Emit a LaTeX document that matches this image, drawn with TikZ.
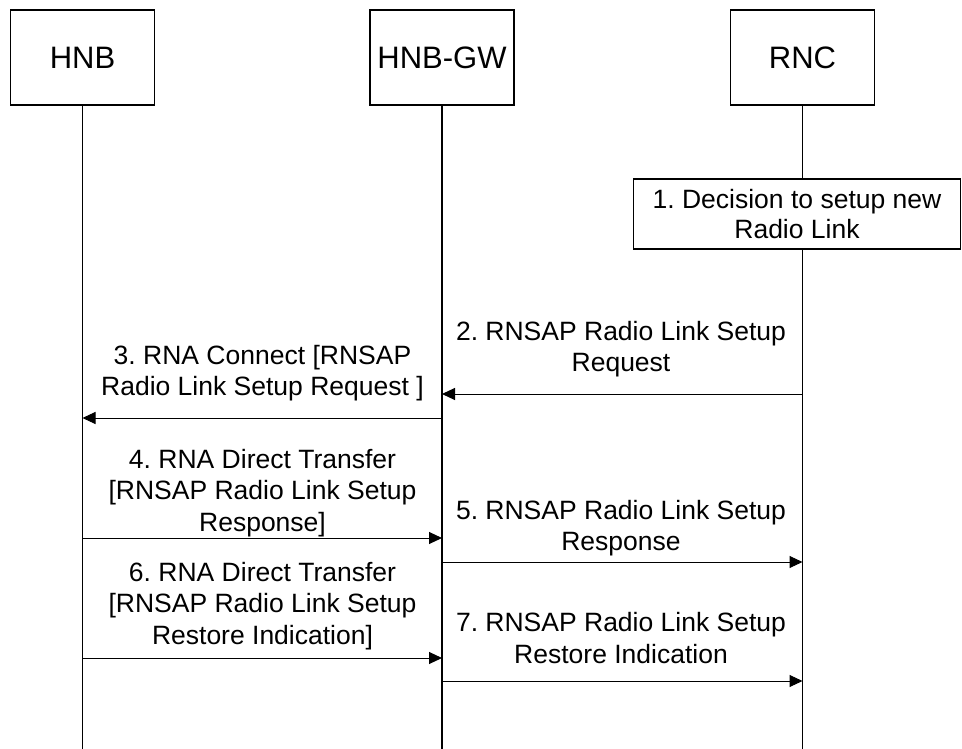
\documentclass[tikz,border=0pt]{standalone}
\usepackage{fontspec}
\setmainfont{Liberation Sans}
\usetikzlibrary{arrows.meta,positioning}
\frenchspacing

\tikzset{
    entity/.style={draw, line width=1.5pt, minimum width=144pt, minimum height=95pt, inner sep=0pt,
        font=\fontsize{31}{37}\selectfont},
    life/.style={line width=1.2pt},
    msg/.style={line width=1pt, -{Triangle[length=13pt,width=12pt]}},
    msgtext/.style={align=center, inner sep=0pt, font=\fontsize{26.5}{31.5}\selectfont},
    actionbox/.style={draw, fill=white, line width=1.3pt, minimum width=327pt, minimum height=70pt,
        inner sep=0pt, align=center, font=\fontsize{26.5}{30}\selectfont}
}

\begin{document}
\begin{tikzpicture}[x=1pt, y=-1pt]

    \useasboundingbox (0,0) rectangle (962,749);

    %entities
    \node[entity] (hnb) at (82.5,57.5) {HNB};
    \node[entity] (gw) at (442,57.5) {HNB-GW};
    \node[entity] (rnc) at (802.5,57.5) {RNC};

    %lifelines
    \coordinate (bottom) at (0,749);
    \draw [life] (hnb) -- (hnb |- bottom);
    \draw [life] (gw) -- (gw |- bottom);
    \draw [life] (rnc) -- (rnc |- bottom);

    %local action
    \node[actionbox] (decide) at (797,214) {1. Decision to setup new\\Radio Link};

    %message heights
    \coordinate (m2) at (0,394);
    \coordinate (m3) at (0,418);
    \coordinate (m4) at (0,538);
    \coordinate (m5) at (0,562);
    \coordinate (m6) at (0,658);
    \coordinate (m7) at (0,681);

    %messages
    \draw [msg] (rnc |- m2) -- (gw |- m2);
    \draw [msg] (gw |- m3) -- (hnb |- m3);
    \draw [msg] (hnb |- m4) -- (gw |- m4);
    \draw [msg] (gw |- m5) -- (rnc |- m5);
    \draw [msg] (hnb |- m6) -- (gw |- m6);
    \draw [msg] (gw |- m7) -- (rnc |- m7);

    %labels
    \node[msgtext] (l2) at (621,349) {2. RNSAP Radio Link Setup\\Request};
    \node[msgtext] (l3) at (262.5,373) {3. RNA Connect [RNSAP\\Radio Link Setup Request ]};
    \node[msgtext] (l4) at (262.5,493) {4. RNA Direct Transfer\\{[RNSAP} Radio Link Setup\\Response]};
    \node[msgtext] (l5) at (621,528) {5. RNSAP Radio Link Setup\\Response};
    \node[msgtext] (l6) at (262.5,606) {6. RNA Direct Transfer\\{[RNSAP} Radio Link Setup\\Restore Indication]};
    \node[msgtext] (l7) at (621,638) {7. RNSAP Radio Link Setup\\Restore Indication};

\end{tikzpicture}
\end{document}
